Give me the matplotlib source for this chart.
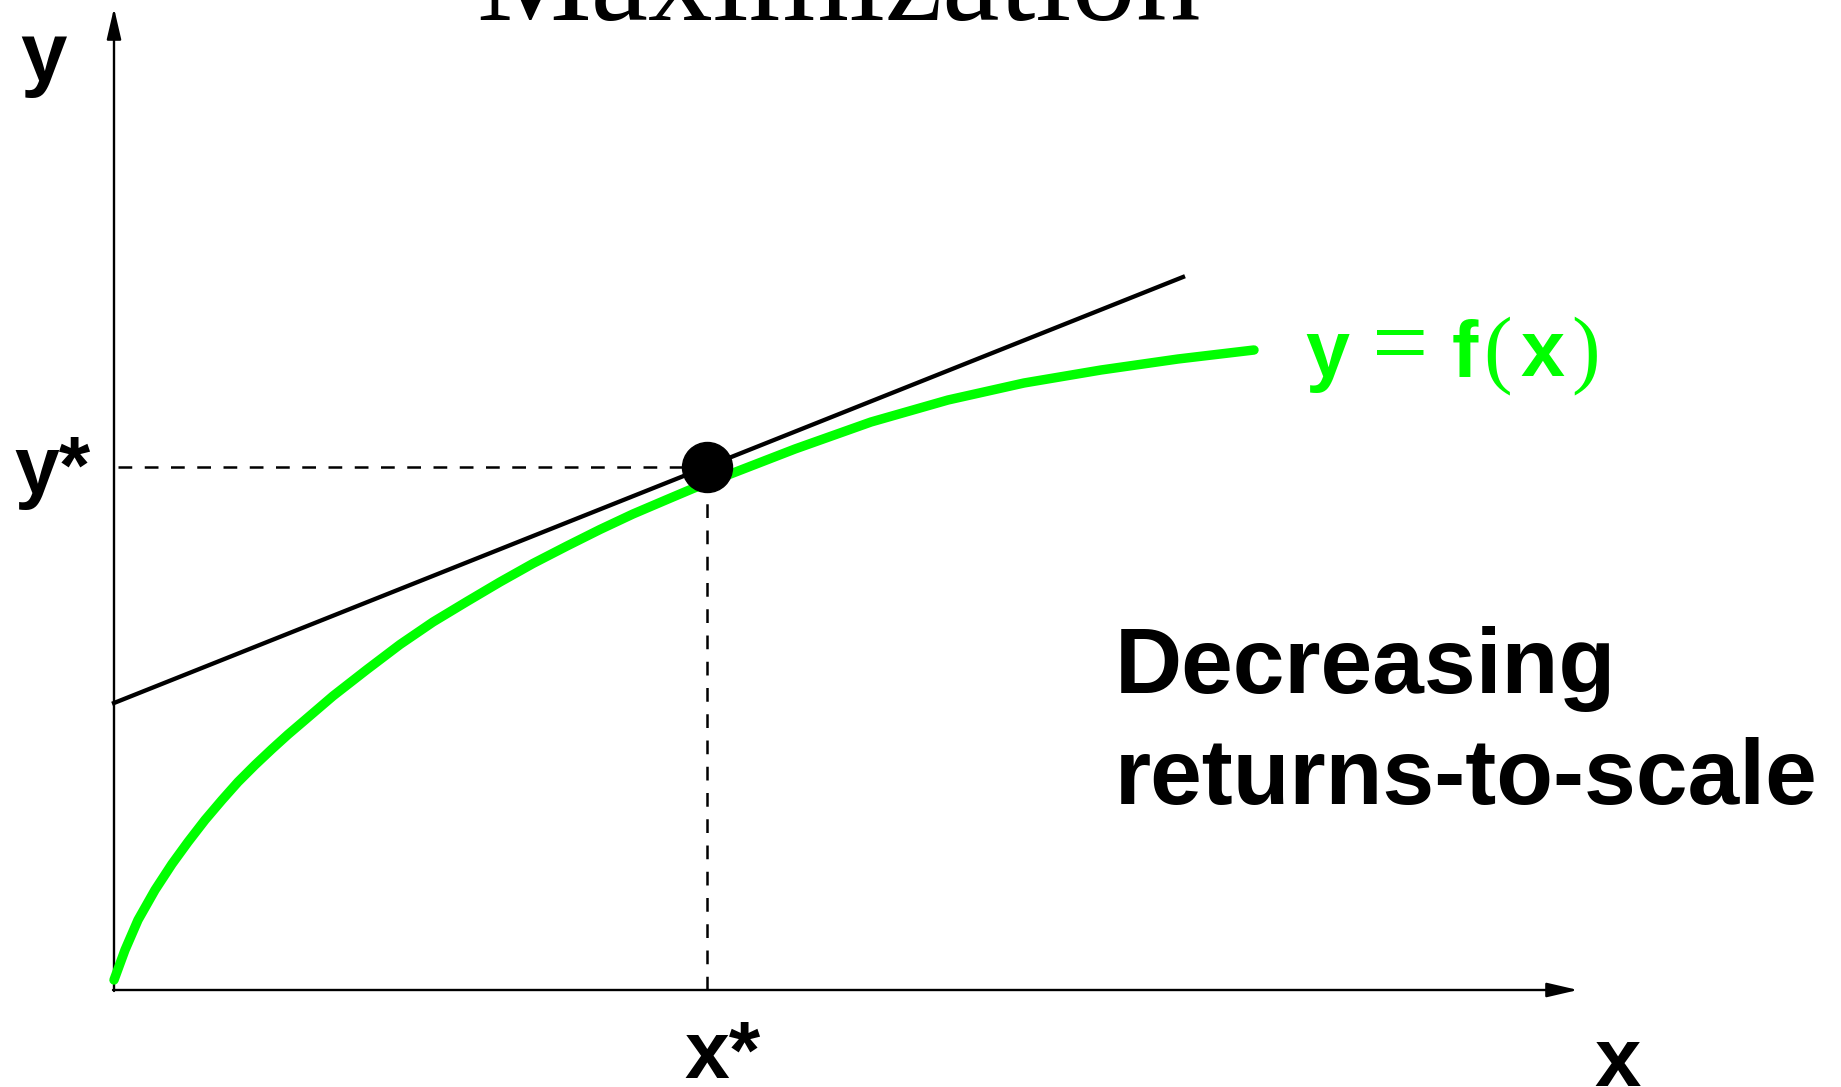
import matplotlib
matplotlib.use("Agg")
import matplotlib.pyplot as plt

# ---- data ----
curve_x = [0.0, 0.11, 0.24, 0.41, 0.58, 0.74, 0.91, 1.08, 1.24, 1.41, 1.58, 1.74,
           1.91, 2.19, 2.53, 2.86, 3.19, 3.53, 3.86, 4.19, 4.53, 4.86, 5.19, 5.53,
           5.79, 6.81, 7.57, 8.34, 9.10, 9.87, 10.64, 11.40]
curve_y = [0.10, 0.40, 0.70, 1.00, 1.26, 1.48, 1.70, 1.90, 2.08, 2.25, 2.41, 2.555,
           2.70, 2.94, 3.205, 3.455, 3.68, 3.885, 4.08, 4.265, 4.44, 4.605, 4.76, 4.905,
           5.015, 5.41, 5.68, 5.90, 6.07, 6.20, 6.31, 6.40]
tangent_x = [0.0, 10.69]
tangent_y = [2.87, 7.13]
opt_x = 5.93
opt_y = 5.235
x_axis_end = 14.64
y_axis_end = 9.82

GREEN = "#00ff00"

fig = plt.figure(figsize=(18.41, 10.87), dpi=100)
ax = fig.add_axes([0, 0, 1, 1])
ax.set_xlim(-1.14, 17.27)
ax.set_ylim(-0.97, 9.90)
ax.axis("off")

# axes with arrows
arrow_style = "-|>,head_length=0.95,head_width=0.22"
ax.annotate("", xy=(x_axis_end, 0), xytext=(-0.01, 0),
            arrowprops=dict(arrowstyle=arrow_style, mutation_scale=20, lw=1.7,
                            color="black", shrinkA=0, shrinkB=0))
ax.annotate("", xy=(0, y_axis_end), xytext=(0, -0.01),
            arrowprops=dict(arrowstyle=arrow_style, mutation_scale=20, lw=1.7,
                            color="black", shrinkA=0, shrinkB=0))

# dashed guides
dash = (0, (5.5, 5.0))
ax.plot([0.04, opt_x], [opt_y, opt_y], color="black", lw=1.8, linestyle=dash)
ax.plot([opt_x, opt_x], [0, opt_y], color="black", lw=1.8, linestyle=dash)

# production function
ax.plot(curve_x, curve_y, color=GREEN, lw=6.8, solid_capstyle="round",
        solid_joinstyle="round", zorder=3)
# tangent (isoprofit) line
ax.plot(tangent_x, tangent_y, color="black", lw=3.1, zorder=4)
# optimum point
ax.plot([opt_x], [opt_y], "o", color="black", markersize=36, zorder=5)

sans = "Liberation Sans"
serif = "Liberation Serif"

# title (cut at top)
ax.text(7.24, 9.70, "Maximization", family=serif, fontsize=93,
        ha="center", va="baseline")

# axis labels
ax.text(-0.71, 9.09, "y", family=sans, weight="bold", fontsize=60,
        ha="center", va="baseline")
ax.text(-1.00, 4.97, "y*", family=sans, weight="bold", fontsize=58,
        ha="left", va="baseline")
ax.text(5.70, -0.88, "x*", family=sans, weight="bold", fontsize=58,
        ha="left", va="baseline")
ax.text(15.04, -0.955, "x", family=sans, weight="bold", fontsize=60,
        ha="center", va="baseline")

# y = f(x) label in pieces
base = 6.14
ax.text(11.91, base, "y", family=sans, weight="bold", fontsize=57,
        color=GREEN, va="baseline")
ax.text(12.58, base, "=", family=serif, fontsize=72,
        color=GREEN, va="baseline")
ax.text(13.38, base, "f", family=sans, weight="bold", fontsize=57,
        color=GREEN, va="baseline")
ax.text(13.69, base, "(", family=serif, fontsize=62,
        color=GREEN, va="baseline")
ax.text(14.06, base, "x", family=sans, weight="bold", fontsize=57,
        color=GREEN, va="baseline")
ax.text(14.57, base, ")", family=serif, fontsize=62,
        color=GREEN, va="baseline")

# annotation
ax.text(10.01, 2.97, "Decreasing", family=sans, weight="bold", fontsize=67,
        ha="left", va="baseline")
ax.text(10.01, 1.86, "returns-to-scale", family=sans, weight="bold", fontsize=67,
        ha="left", va="baseline")

fig.savefig("out.png", dpi=100)
